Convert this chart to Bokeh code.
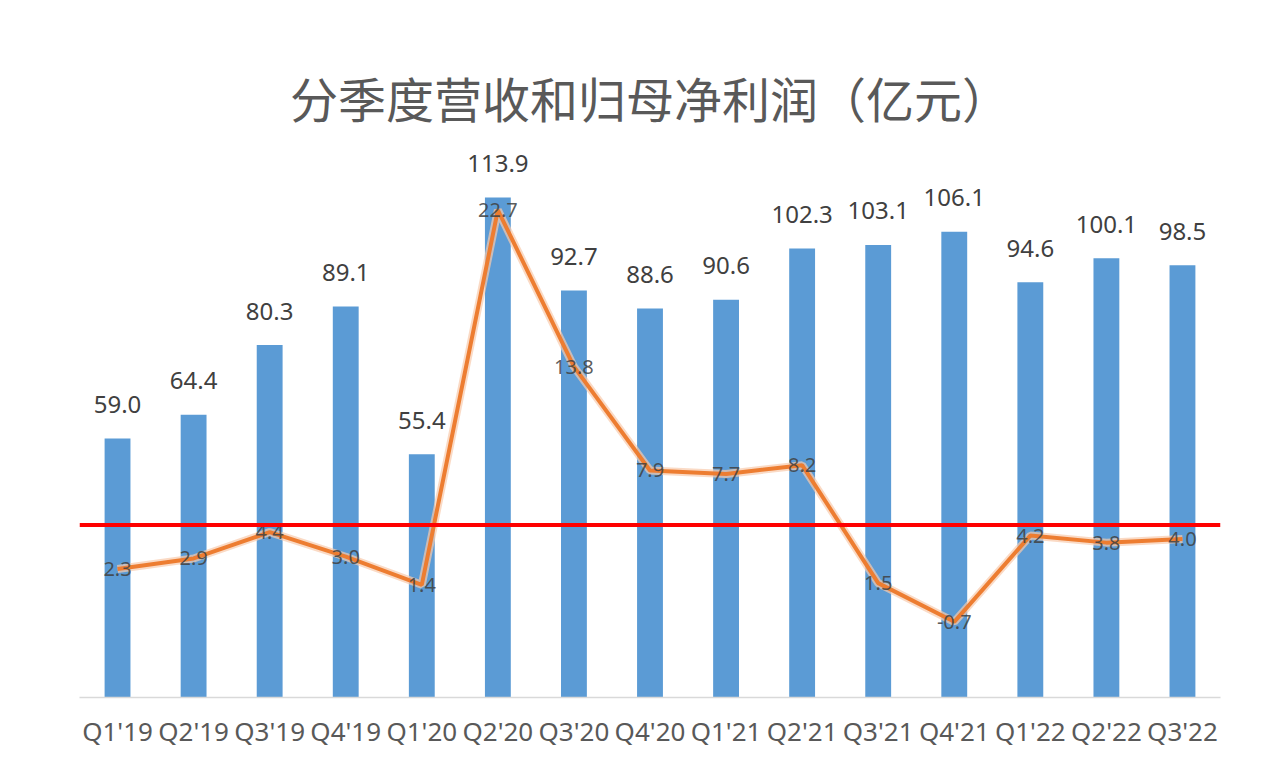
from bokeh.plotting import figure
from bokeh.models import Range1d, ColumnDataSource, Span, FactorRange
from bokeh.core.properties import value
from bokeh.embed import file_html
from bokeh.resources import INLINE

quarters = ["Q1'19", "Q2'19", "Q3'19", "Q4'19", "Q1'20", "Q2'20", "Q3'20", "Q4'20",
            "Q1'21", "Q2'21", "Q3'21", "Q4'21", "Q1'22", "Q2'22", "Q3'22"]
revenue = [59.0, 64.4, 80.3, 89.1, 55.4, 113.9, 92.7, 88.6, 90.6, 102.3, 103.1, 106.1, 94.6, 100.1, 98.5]
net_profit = [2.3, 2.9, 4.4, 3.0, 1.4, 22.7, 13.8, 7.9, 7.7, 8.2, 1.5, -0.7, 4.2, 3.8, 4.0]
reference_level = 4.8
title_text = "分季度营收和归母净利润（亿元）"

src = ColumnDataSource(dict(
    q=quarters,
    rev=revenue,
    rev_lbl=[f"{v:.1f}" for v in revenue],
    np=net_profit,
    np_lbl=[f"{v:.1f}" for v in net_profit],
))

p = figure(width=1268, height=751, x_range=FactorRange(*quarters),
           y_range=Range1d(0, 126.9), output_backend="svg", toolbar_location=None,
           min_border_left=79, min_border_right=48, min_border_bottom=54, min_border_top=140,
           title=title_text)
p.extra_y_ranges = {"np": Range1d(-5, 26.65)}

p.title.text_font = "Noto Sans CJK SC"
p.title.text_font_size = "48px"
p.title.text_font_style = "normal"
p.title.text_color = "#595959"
p.title.align = "center"
p.title.standoff = 18

p.outline_line_color = None
p.grid.visible = False
p.yaxis.visible = False
p.background_fill_color = "white"
p.border_fill_color = "white"

p.xaxis.axis_line_color = "#D9D9D9"
p.xaxis.axis_line_width = 1.5
p.xaxis.major_tick_line_color = None
p.xaxis.minor_tick_line_color = None
p.xaxis.major_label_text_font = "Noto Sans"
p.xaxis.major_label_text_font_size = "26px"
p.xaxis.major_label_text_color = "#595959"
p.xaxis.major_label_standoff = 9
p.x_range.range_padding = 0

# bars
p.vbar(x="q", top="rev", width=0.34, source=src, fill_color="#5B9BD5", line_color=None)
p.text(x="q", y="rev", text="rev_lbl", source=src, text_align="center", text_baseline="middle",
       y_offset=-34, text_font=value("Noto Sans"), text_font_size="24px", text_color="#404040")

# red reference line
p.add_layout(Span(location=reference_level, dimension="width", y_range_name="np",
                  line_color="#FF0000", line_width=4))

# net profit line
p.line(x="q", y="np", source=src, y_range_name="np", line_color="#F8CBAD", line_width=8, line_alpha=0.7)
p.line(x="q", y="np", source=src, y_range_name="np", line_color="#ED7D31", line_width=4)
p.text(x="q", y="np", text="np_lbl", source=src, y_range_name="np", text_align="center",
       text_baseline="middle", text_font=value("Noto Sans"), text_font_size="20px",
       text_color="#404040", text_alpha=0.85)

open("out.html", "w").write(file_html(p, INLINE))
